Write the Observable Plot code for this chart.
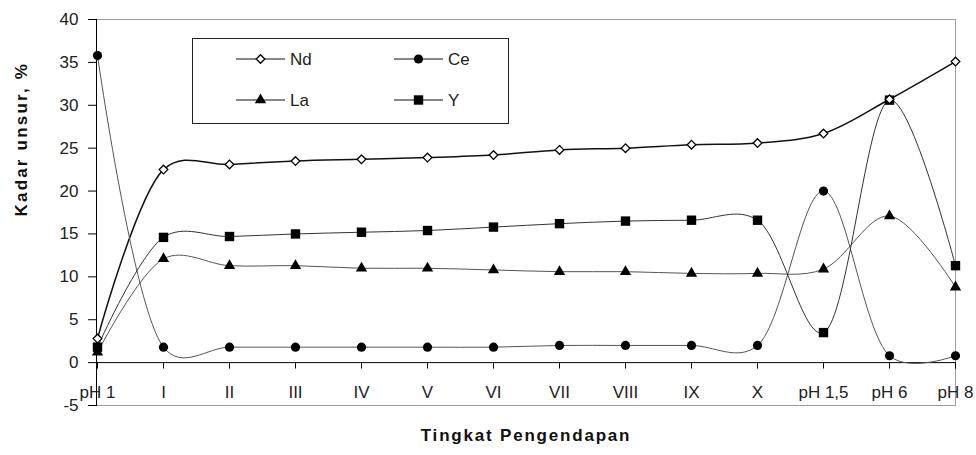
<!DOCTYPE html>
<html>
<head>
<meta charset="utf-8">
<script src="https://cdn.jsdelivr.net/npm/d3@7"></script>
<script src="https://cdn.jsdelivr.net/npm/@observablehq/plot@0.6"></script>
<style>
  html, body { margin: 0; padding: 0; background: #fff; }
  #wrap { position: relative; width: 976px; height: 455px; }
  #legend { position: absolute; left: 0; top: 0; pointer-events: none; }
</style>
</head>
<body>
<div id="wrap"></div>
<script>
// ---- data ----
const categories = ["pH 1", "I", "II", "III", "IV", "V", "VI", "VII", "VIII", "IX", "X", "pH 1,5", "pH 6", "pH 8"];
const ndValues = [2.8, 22.5, 23.1, 23.5, 23.7, 23.9, 24.2, 24.8, 25.0, 25.4, 25.6, 26.7, 30.7, 35.1];
const ceValues = [35.8, 1.8, 1.8, 1.8, 1.8, 1.8, 1.8, 2.0, 2.0, 2.0, 2.0, 20.0, 0.8, 0.8];
const laValues = [1.2, 12.1, 11.3, 11.3, 11.0, 11.0, 10.8, 10.6, 10.6, 10.4, 10.4, 10.9, 17.1, 8.8];
const yValues  = [1.8, 14.6, 14.7, 15.0, 15.2, 15.4, 15.8, 16.2, 16.5, 16.6, 16.6, 3.5, 30.6, 11.3];
const yTicks = [-5, 0, 5, 10, 15, 20, 25, 30, 35, 40];
const seriesNames = ["Nd", "Ce", "La", "Y"];
const xTitle = "Tingkat Pengendapan";
const yTitle = "Kadar unsur, %";

const toRows = (vals) => categories.map((c, i) => ({cat: c, v: vals[i]}));
const nd = toRows(ndValues), ce = toRows(ceValues), la = toRows(laValues), yy = toRows(yValues);

const styles = {
  Nd: {symbol: "diamond2", r: 3.9, fill: "#fff", stroke: "#000", strokeWidth: 1.3, line: "#111", lw: 1.5},
  Ce: {symbol: "circle", r: 4.6, fill: "#000", stroke: "none", strokeWidth: 0, line: "#555", lw: 1},
  La: {symbol: "triangle", r: 4.2, fill: "#000", stroke: "none", strokeWidth: 0, line: "#555", lw: 1},
  Y:  {symbol: "square", r: 5.3, fill: "#000", stroke: "none", strokeWidth: 0, line: "#333", lw: 1}
};
const dataBy = {Nd: nd, Ce: ce, La: la, Y: yy};

const lineMarks = seriesNames.map(s => Plot.line(dataBy[s], {
  x: "cat", y: "v", curve: "catmull-rom", tension: 0.3,
  stroke: styles[s].line, strokeWidth: styles[s].lw
}));
const dotMarks = ["Ce", "La", "Y", "Nd"].map(s => Plot.dot(dataBy[s], {
  x: "cat", y: "v", symbol: styles[s].symbol, r: styles[s].r,
  fill: styles[s].fill, stroke: styles[s].stroke, strokeWidth: styles[s].strokeWidth
}));

const chart = Plot.plot({
  width: 976, height: 455,
  marginLeft: 96, marginRight: 21, marginTop: 19, marginBottom: 50,
  style: {fontFamily: "'Liberation Sans', Arial, sans-serif", fontSize: "17px", color: "#222", background: "#fff", overflow: "visible"},
  x: {type: "point", domain: categories, padding: 0, axis: null},
  y: {domain: [-5, 40], axis: null},
  marks: [
    Plot.frame({stroke: "#9c9c9c"}),
    Plot.ruleY([0], {stroke: "#000"}),
    Plot.ruleX(categories, {x: d => d, y1: 0, y2: -0.75, stroke: "#000"}),
    Plot.axisY(yTicks, {anchor: "left", tickSize: 8, tickPadding: 10, label: null, tickFormat: d => String(d), stroke: "#000", fill: "#222", fontSize: 17}),
    Plot.frame({anchor: "left", stroke: "#000"}),
    Plot.text(categories, {x: d => d, frameAnchor: "bottom", dy: -8, fill: "#222", fontSize: 17}),
    ...lineMarks,
    ...dotMarks,
    Plot.text([xTitle], {text: d => d, frameAnchor: "bottom", dy: 35, fontWeight: "bold", fontSize: 17, fill: "#111"}),
    Plot.text([yTitle], {text: d => d, frameAnchor: "left", dx: -75, dy: 4, rotate: -90, fontWeight: "bold", fontSize: 17, fill: "#111"})
  ]
});
document.getElementById("wrap").appendChild(chart);

// letter-spacing for the axis titles (as in the reference)
d3.select(chart).selectAll("text").each(function () {
  const t = d3.select(this).text();
  if (t === xTitle) d3.select(this).style("letter-spacing", "1.8px");
  if (t === yTitle) d3.select(this).style("letter-spacing", "2.2px");
});

// ---- legend (overlay) ----
const leg = d3.select("#wrap").append("svg").attr("id", "legend")
  .attr("width", 976).attr("height", 455)
  .style("font-family", "'Liberation Sans', Arial, sans-serif").style("font-size", "17px");
leg.append("rect").attr("x", 192.5).attr("y", 38.5).attr("width", 316).attr("height", 85)
  .attr("fill", "#fff").attr("stroke", "#222").attr("stroke-width", 1);
const symMap = {diamond2: d3.symbolDiamond2, circle: d3.symbolCircle, triangle: d3.symbolTriangle, square: d3.symbolSquare};
const legPos = {Nd: [236, 59], Ce: [394, 59], La: [236, 100], Y: [394, 100]};
seriesNames.forEach(s => {
  const [x0, y0] = legPos[s];
  const st = styles[s];
  leg.append("line").attr("x1", x0).attr("x2", x0 + 49).attr("y1", y0).attr("y2", y0)
    .attr("stroke", "#111").attr("stroke-width", 1);
  leg.append("path").attr("transform", `translate(${x0 + 24.5},${y0})`)
    .attr("d", d3.symbol(symMap[st.symbol], Math.PI * st.r * st.r)())
    .attr("fill", st.fill).attr("stroke", st.stroke).attr("stroke-width", st.strokeWidth);
  leg.append("text").attr("x", x0 + 54).attr("y", y0).attr("dy", "0.35em").attr("fill", "#222").text(s);
});
</script>
</body>
</html>
